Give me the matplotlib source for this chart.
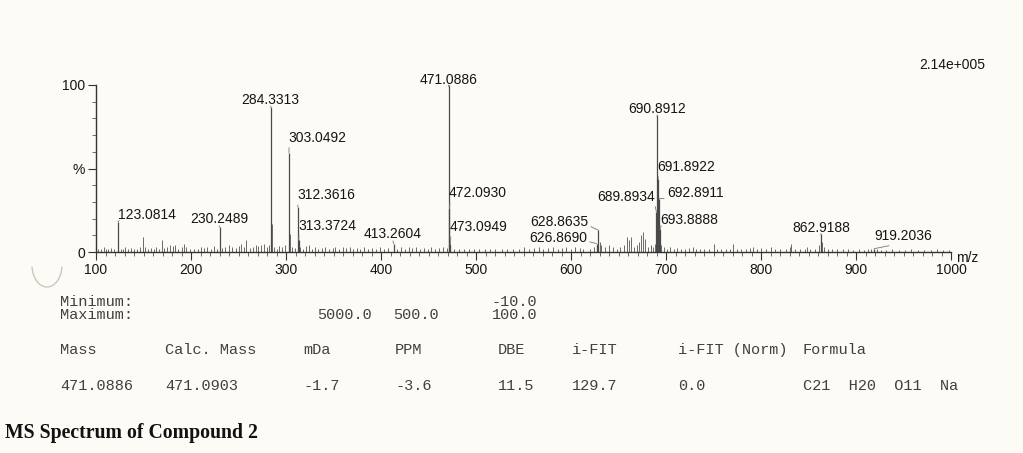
import matplotlib
matplotlib.use("Agg")
import matplotlib.pyplot as plt
from matplotlib.ticker import MultipleLocator, FixedLocator
from matplotlib.patches import Arc

plt.rcParams['font.family'] = ['Liberation Sans', 'DejaVu Sans']

# labelled peaks (m/z, relative intensity %)
peak_mz = [123.0814, 230.2489, 284.3313, 303.0492, 312.3616, 313.3724, 413.2604,
           471.0886, 472.0930, 473.0949, 626.8690, 628.8635, 689.8934, 690.8912,
           691.8922, 692.8911, 693.8888, 862.9188, 919.2036]
peak_int = [18, 15, 87, 59.5, 27, 7, 5,
            100, 26, 5, 5, 13, 24, 82,
            44, 32, 14, 11, 2]

# unlabelled minor peaks
minor_mz = [102, 105, 108, 111, 113, 116, 119, 126, 128, 131, 134, 137, 140, 143, 146,
            149, 152, 155, 158, 161, 163, 166, 169, 172, 175, 178, 181, 183, 186, 190,
            193, 195, 199, 203, 207, 211, 214, 217, 221, 224, 227, 233, 236, 240, 243,
            247, 250, 253, 256, 258, 262, 265, 268, 271, 274, 277, 280, 282, 285.3, 287,
            290, 293, 296, 299, 304.1, 306, 309, 315, 318, 321, 324, 327, 331, 334, 338,
            341, 345, 349, 352, 356, 360, 363, 367, 371, 375, 378, 382, 386, 390, 395,
            399, 403, 407, 417, 421, 425, 429, 433, 437, 441, 445, 449, 453, 457, 461,
            465, 469, 477, 482, 487, 493, 498, 503, 509, 515, 520, 527, 533, 539, 545,
            551, 556, 561, 566, 571, 576, 581, 586, 591, 595, 600, 604, 609, 613, 620,
            624, 630, 632, 636, 640, 644, 648, 652, 656, 659, 661, 663, 666, 669, 672,
            674, 676, 678, 681, 684, 686, 688, 695, 698, 701, 704, 708, 712, 716, 720,
            724, 728, 732, 736, 740, 745, 750, 754, 758, 763, 767, 771, 775, 779, 784,
            788, 792, 796, 800, 805, 810, 815, 820, 826, 830, 832, 836, 841, 846, 848,
            852, 857, 861, 864, 866, 870, 875, 880, 886, 892, 897, 903, 908, 913, 916,
            922, 926, 932, 938, 945, 952, 958, 965, 972, 979, 985, 992, 998]
minor_int = [2, 1.5, 3, 2, 1.5, 2.5, 2, 2, 1.5, 3, 2, 2.5, 1.5, 2, 3,
             9, 3, 2, 2.5, 2, 3, 2, 7, 2.5, 3, 4, 3.5, 4, 2, 3,
             4.5, 3, 2, 1.5, 2, 3, 2.5, 3, 2, 3.5, 2, 2.5, 3, 4, 3,
             2.5, 3.5, 4.5, 3, 7, 2.5, 3, 4, 3.5, 4, 5, 3, 4, 17, 3,
             2, 3.5, 3, 4, 11, 3, 2.5, 3, 2, 3.5, 4, 2, 3, 2, 2.5,
             3, 2, 2.5, 3, 2, 3, 2.5, 3, 2, 2.5, 2, 3, 2, 2.5, 2,
             3, 2, 2.5, 2, 3, 2, 3, 2.5, 3, 2, 2.5, 2, 3, 2, 2.5,
             3, 2.5, 2, 1.5, 2, 1.5, 2, 1.5, 2, 1.5, 2, 1.5, 2, 1.5, 2,
             3, 2, 2.5, 3, 2, 2.5, 3, 2, 2.5, 3, 2, 3, 2.5, 2, 2,
             3, 6, 4, 3, 4, 3, 2, 3, 4, 9, 7, 9, 3, 4, 6,
             10, 12, 8, 3, 4, 3, 5, 4, 3, 2, 3, 2, 2.5, 2, 2,
             2.5, 3, 2, 1.5, 2, 2, 5, 2, 1.5, 2, 2, 5, 2, 1.5, 2,
             2.5, 3, 2, 2.5, 2, 3, 2, 1.5, 2, 3, 5, 2, 1.5, 2, 3,
             2, 1.5, 4, 6, 3, 2, 1.5, 1.5, 1.5, 1.5, 1, 1.5, 1, 1.5, 2,
             1.5, 1, 1, 1.5, 1, 1, 1.5, 1, 1, 1, 1.5, 1, 1]

# label text anchors (m/z, %) and alignment
label_pos = [(123.2, 22.2, 'left'), (229.5, 19.8, 'center'), (283.2, 91, 'center'),
             (302.1, 68.3, 'left'), (311.6, 34.1, 'left'), (312.6, 15.6, 'left'),
             (412.6, 10.8, 'center'), (471.6, 103, 'center'), (471.6, 35.3, 'left'),
             (472.6, 15, 'left'), (616.8, 8.4, 'right'), (617.9, 18, 'right'),
             (688.4, 33, 'right'), (690.5, 85.6, 'center'), (690.5, 51, 'left'),
             (701, 35.3, 'left'), (693.7, 19.2, 'left'), (863.2, 14.4, 'center'),
             (949.5, 9.6, 'center')]

W, H = 1023, 453
fig = plt.figure(figsize=(W / 100, H / 100), dpi=100)
fig.patch.set_facecolor('#fcfbf6')

ax = fig.add_axes([96 / W, 1 - 252 / H, 855 / W, 167 / H])
ax.set_facecolor('none')

ax.vlines(minor_mz, 0, minor_int, color='#6a6a6a', lw=0.7)
ax.vlines(peak_mz, 0, peak_int, color='#4a4a4a', lw=0.9)

for mz, inten, (tx, ty, ha) in zip(peak_mz, peak_int, label_pos):
    rel = {'left': (0.02, 0.1), 'right': (0.98, 0.3), 'center': (0.5, 0.0)}[ha]
    ax.annotate(f'{mz:.4f}', xy=(mz, inten), xytext=(tx, ty), ha=ha, va='center',
                fontsize=10, color='#151515', annotation_clip=False,
                arrowprops=dict(arrowstyle='-', color='#777777', lw=0.6,
                                shrinkA=0, shrinkB=0, relpos=rel))

ax.text(1001, 112, '2.14e+005', ha='center', va='center', fontsize=10, color='#151515',
        clip_on=False)
ax.text(1005, -3.5, 'm/z', ha='left', va='center', fontsize=10, color='#151515',
        clip_on=False)

ax.set_xlim(100, 1000)
ax.set_ylim(0, 100)
for side in ('top', 'right'):
    ax.spines[side].set_visible(False)
for side in ('left', 'bottom'):
    ax.spines[side].set_color('#333333')
    ax.spines[side].set_linewidth(1.0)

ax.xaxis.set_major_locator(MultipleLocator(100))
ax.xaxis.set_minor_locator(MultipleLocator(10))
ax.yaxis.set_major_locator(FixedLocator([0, 50, 100]))
ax.yaxis.set_minor_locator(MultipleLocator(10))
ax.set_yticklabels(['0', '%', '100'])
ax.tick_params(axis='both', which='major', length=6, width=0.8, color='#333333',
               labelsize=10, labelcolor='#151515', pad=2)
ax.tick_params(axis='both', which='minor', length=3, width=0.6, color='#555555')

# elemental composition report
mono = ['Liberation Mono', 'DejaVu Sans Mono']
tcol = '#404040'


def put(px, py, s):
    fig.text(px / W, 1 - py / H, s, family=mono, fontsize=11, color=tcol,
             ha='left', va='center')


put(60, 302, 'Minimum:')
put(60, 315, 'Maximum:')
put(492, 302, '-10.0')
put(317, 315, '5000.0')
put(393, 315, '500.0')
put(492, 315, '100.0')

header = [(60, 'Mass'), (165, 'Calc. Mass'), (303, 'mDa'), (395, 'PPM'), (498, 'DBE'),
          (572, 'i-FIT'), (678, 'i-FIT (Norm)'), (803, 'Formula')]
row = [(60, '471.0886'), (165, '471.0903'), (303, '-1.7'), (395, '-3.6'), (498, '11.5'),
       (572, '129.7'), (678, '0.0'), (803, 'C21  H20  O11  Na')]
for px, s in header:
    put(px, 350, s)
for px, s in row:
    put(px, 386, s)

fig.text(5 / W, 1 - 433 / H, 'MS Spectrum of Compound 2', family=['Liberation Serif'],
         fontweight='bold', fontsize=14.2, color='#111111', ha='left', va='center')

fig.add_artist(Arc((47 / W, 1 - 265 / H), 30 / W, 44 / H, theta1=195, theta2=345,
                   transform=fig.transFigure, color='#c8c8c0', lw=1.0))

fig.savefig('out.png', dpi=100, facecolor=fig.get_facecolor())
